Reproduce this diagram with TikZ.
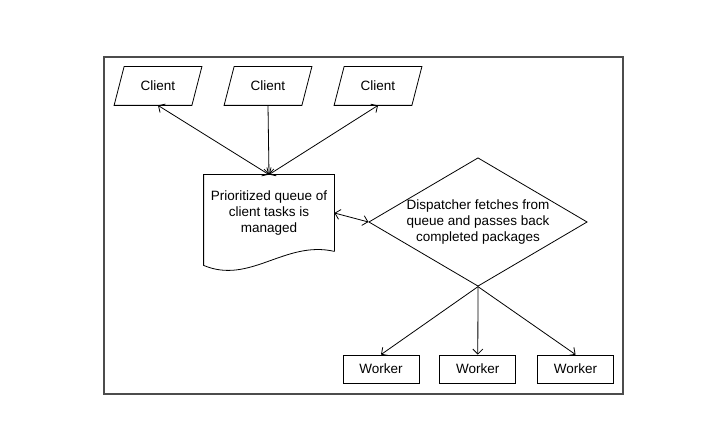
\documentclass[tikz,border=0pt]{standalone}
\usepackage{fontspec}
\setmainfont{Liberation Sans}
\usetikzlibrary{positioning,shapes.geometric,arrows.meta}

\begin{document}
\begin{tikzpicture}[x=1pt,y=-1pt,>={Straight Barb[length=5pt,width=10pt]},line width=0.8pt,
        font=\fontsize{13.5}{16}\selectfont]
        \tikzstyle{client}=[rectangle,minimum width=77pt,minimum height=38pt,inner sep=0pt]
        \tikzstyle{worker}=[rectangle,draw=black,minimum width=76pt,minimum height=28pt,inner sep=0pt]
        \useasboundingbox (0,0) rectangle (724,438);
        \draw[line width=1.2pt,black!70] (104,57) rectangle (623,394);
        \node[client] (client_1) at (158,86) {Client};
        \node[client] (client_2) at (268,86) {Client};
        \node[client] (client_3) at (378,86) {Client};
        \foreach \c in {client_1,client_2,client_3}
            \draw ([xshift=5pt]\c.north west) -- ([xshift=5pt]\c.north east)
                -- ([xshift=-5pt]\c.south east) -- ([xshift=-5pt]\c.south west) -- cycle;
        \node[align=center,minimum width=130pt,minimum height=76pt,inner sep=0pt] (queue) at (269,213)
            {Prioritized queue of\\client tasks is\\managed};
        \draw (queue.south east) -- (queue.north east) -- (queue.north west) -- ([yshift=-14pt]queue.south west)
            .. controls (250,285) and (285,240) .. (queue.south east);
        \node[diamond,draw=black,align=center,aspect=1.7,minimum width=217pt,minimum height=128pt,inner sep=0pt]
            (dispatcher) at (478,222) {Dispatcher fetches from\\queue and passes back\\completed packages};
        \node[worker] (worker_1) at (381,369) {Worker};
        \node[worker] (worker_2) [right=20pt of worker_1] {Worker};
        \node[worker] (worker_3) [right=21pt of worker_2] {Worker};
        \draw[<->] (client_1.south) -- (queue.north);
        \draw[->] (client_2.south) -- (queue.north);
        \draw[<->] (client_3.south) -- (queue.north);
        \draw[<->] (queue.east) -- (dispatcher.west);
        \draw[->] (dispatcher.south) -- (worker_1.north);
        \draw[->] (dispatcher.south) -- (worker_2.north);
        \draw[->] (dispatcher.south) -- (worker_3.north);
    \end{tikzpicture}
\end{document}
